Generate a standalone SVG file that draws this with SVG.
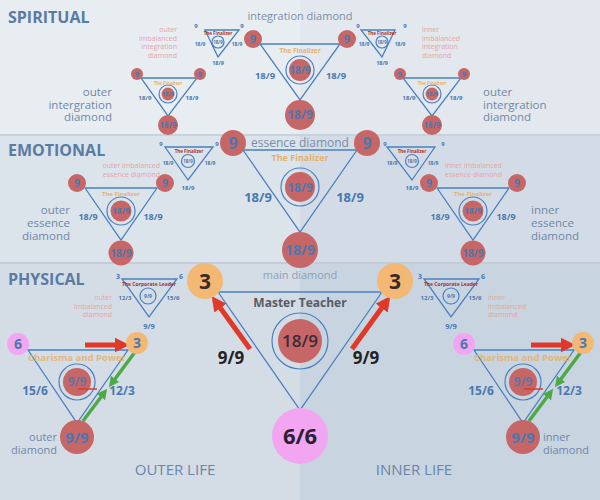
<svg xmlns="http://www.w3.org/2000/svg" width="600" height="500" viewBox="0 0 600 500">
<defs>
<marker id="ar" viewBox="0 0 10 10" refX="5" refY="5" markerWidth="3" markerHeight="3" orient="auto"><path d="M0,0 L10,5 L0,10 z" fill="#e0392a"/></marker>
<marker id="ag" viewBox="0 0 10 10" refX="5" refY="5" markerWidth="3" markerHeight="3" orient="auto"><path d="M0,0 L10,5 L0,10 z" fill="#4caa44"/></marker>
<style>
text{font-family:"Open Sans","DejaVu Sans",sans-serif;text-anchor:middle}
.tri{fill:none;stroke:#4a80c0;stroke-width:1.3}
.red{fill:#c76666}
.org{fill:#f3b874}
.pnk{fill:#f2a6f2}
.ring{fill:none;stroke:#4a80c0;stroke-width:1.2}
.b{fill:#4a78b0;font-weight:bold}
.sec{fill:#5a7ba3;font-weight:bold;font-size:16px;text-anchor:start}
.lab{fill:#7088a8;font-size:11.5px}
.pk{fill:#e6a4a4;font-size:7px}
.fin{fill:#e2b26e;font-weight:bold}
.tf{fill:#a33030;font-weight:bold}
.ra{stroke:#e0392a;stroke-width:5;fill:none}
.ga{stroke:#4caa44;stroke-width:3.5;fill:none}
</style>
</defs>
<rect x="0" y="0" width="300" height="135" fill="#e8edf2"/>
<rect x="300" y="0" width="300" height="135" fill="#e2e8ee"/>
<rect x="0" y="135" width="300" height="128" fill="#dbe3eb"/>
<rect x="300" y="135" width="300" height="128" fill="#d3dce6"/>
<rect x="0" y="263" width="300" height="237" fill="#d4dde6"/>
<rect x="300" y="263" width="300" height="237" fill="#c8d4e0"/>
<line x1="0" y1="135" x2="600" y2="135" stroke="#c8d2dc" stroke-width="2"/>
<line x1="0" y1="263" x2="600" y2="263" stroke="#c3cdd8" stroke-width="2"/>

<text class="sec" x="8" y="23">SPIRITUAL</text>
<text class="sec" x="8" y="156">EMOTIONAL</text>
<text class="sec" x="8" y="285">PHYSICAL</text>

<g id="connectors">
<polygon class="tri" points="218,292 382,292 300,410"/>
<polygon class="tri" points="243,150 357,150 300,232"/>
<polygon class="tri" points="260,44 340,44 300,100"/>
<polygon class="tri" points="141,78 197,78 168,116"/>
<polygon class="tri" points="403,78 461,78 432,116"/>
<polygon class="tri" points="85,188 157,188 121,240"/>
<polygon class="tri" points="437,188 509,188 473,240"/>
<polygon class="tri" points="205,30 239,30 218,57" stroke-width="1"/>
<polygon class="tri" points="361,30 395,30 382,57" stroke-width="1"/>
<polygon class="tri" points="165,147 213,147 188,180" stroke-width="1"/>
<polygon class="tri" points="387,147 435,147 412,180" stroke-width="1"/>
<polygon class="tri" points="122,279 177,279 149,317" stroke-width="1"/>
<polygon class="tri" points="424,279 479,279 451,317" stroke-width="1"/>
<polygon class="tri" points="28,350 128,350 77,423"/>
<polygon class="tri" points="474,350 574,350 523,423"/>
<line class="ra" x1="250" y1="349" x2="216" y2="302" marker-end="url(#ar)"/>
<line class="ra" x1="352" y1="349" x2="386" y2="302" marker-end="url(#ar)"/>
<line class="ra" x1="85" y1="345" x2="122" y2="345" stroke-width="3.5" marker-end="url(#ar)"/>
<line class="ra" x1="531" y1="345" x2="568" y2="345" stroke-width="3.5" marker-end="url(#ar)"/>
<line class="ga" x1="83" y1="421" x2="104" y2="393" marker-end="url(#ag)"/>
<line class="ga" x1="135" y1="352" x2="112" y2="383" marker-end="url(#ag)"/>
<line class="ga" x1="529" y1="421" x2="550" y2="393" marker-end="url(#ag)"/>
<line class="ga" x1="581" y1="352" x2="558" y2="383" marker-end="url(#ag)"/>
</g>

<g id="main-diamond">
<circle class="org" cx="205" cy="281" r="18"/><text x="205" y="289" font-size="21" font-weight="bold" fill="#3a2a2a">3</text>
<circle class="org" cx="395" cy="281" r="18"/><text x="395" y="289" font-size="21" font-weight="bold" fill="#3a2a2a">3</text>
<circle class="pnk" cx="300" cy="436" r="28"/><text x="300" y="444" font-size="22" font-weight="bold" fill="#2a2030">6/6</text>
<circle class="ring" cx="300" cy="341" r="28"/><circle class="red" cx="300" cy="341" r="22"/>
<text x="300" y="347" font-size="17" fill="#3a2a3a" font-weight="600">18/9</text>
<text x="300" y="307" font-size="12" font-weight="bold" fill="#5a5a62">Master Teacher</text>
<text x="300" y="279" font-size="11" fill="#8aa0ba">main diamond</text>
<text x="231" y="364" font-size="17" font-weight="bold" fill="#222">9/9</text>
<text x="366" y="364" font-size="17" font-weight="bold" fill="#222">9/9</text>
</g>

<g id="essence-diamond">
<circle class="red" cx="233" cy="143" r="13"/><text class="b" x="233" y="149" font-size="16">9</text>
<circle class="red" cx="367" cy="143" r="13"/><text class="b" x="367" y="149" font-size="16">9</text>
<circle class="red" cx="300" cy="250" r="18"/><text class="b" x="300" y="255" font-size="14">18/9</text>
<circle class="ring" cx="300" cy="187" r="19"/><circle class="red" cx="300" cy="187" r="15"/>
<text class="b" x="300" y="192" font-size="12">18/9</text>
<text x="300" y="147" font-size="12" fill="#7a8ea8">essence diamond</text>
<text class="fin" x="300" y="161" font-size="9">The Finalizer</text>
<text class="b" x="258" y="202" font-size="13">18/9</text>
<text class="b" x="350" y="202" font-size="13">18/9</text>
</g>

<g id="integration-diamond">
<circle class="red" cx="253" cy="39" r="9"/><text class="b" x="253" y="43" font-size="11">9</text>
<circle class="red" cx="347" cy="39" r="9"/><text class="b" x="347" y="43" font-size="11">9</text>
<circle class="red" cx="300" cy="115" r="15"/><text class="b" x="300" y="119" font-size="12">18/9</text>
<circle class="ring" cx="300" cy="70" r="14"/><circle class="red" cx="300" cy="70" r="11"/>
<text class="b" x="300" y="74" font-size="10">18/9</text>
<text x="300" y="20" font-size="11" fill="#7a8ea8">integration diamond</text>
<text class="fin" x="300" y="53" font-size="6.5">The Finalizer</text>
<text class="b" x="265" y="79" font-size="9.5">18/9</text>
<text class="b" x="336" y="79" font-size="9.5">18/9</text>
</g>

<g id="outer-integration">
<circle class="red" cx="137" cy="74" r="6"/><text class="b" x="137" y="77" font-size="7.5">9</text>
<circle class="red" cx="200" cy="74" r="6"/><text class="b" x="200" y="77" font-size="7.5">9</text>
<circle class="red" cx="168" cy="125" r="10"/><text class="b" x="168" y="128" font-size="8">18/9</text>
<circle class="ring" cx="168" cy="94" r="9" stroke-width="1"/><circle class="red" cx="168" cy="94" r="6.5"/>
<text class="b" x="168" y="96" font-size="5.5">18/9</text>
<text class="fin" x="168" y="85" font-size="4.5">The Finalizer</text>
<text class="b" x="145" y="100" font-size="6">18/9</text>
<text class="b" x="192" y="100" font-size="6">18/9</text>
<text class="lab" x="112" y="96" style="text-anchor:end">outer</text>
<text class="lab" x="112" y="108.5" style="text-anchor:end">intergration</text>
<text class="lab" x="112" y="121" style="text-anchor:end">diamond</text>
</g>

<g id="inner-integration">
<circle class="red" cx="400" cy="74" r="6"/><text class="b" x="400" y="77" font-size="7.5">9</text>
<circle class="red" cx="464" cy="74" r="6"/><text class="b" x="464" y="77" font-size="7.5">9</text>
<circle class="red" cx="432" cy="125" r="10"/><text class="b" x="432" y="128" font-size="8">18/9</text>
<circle class="ring" cx="432" cy="94" r="9" stroke-width="1"/><circle class="red" cx="432" cy="94" r="6.5"/>
<text class="b" x="432" y="96" font-size="5.5">18/9</text>
<text class="fin" x="432" y="85" font-size="4.5">The Finalizer</text>
<text class="b" x="409" y="100" font-size="6">18/9</text>
<text class="b" x="456" y="100" font-size="6">18/9</text>
<text class="lab" x="483" y="96" style="text-anchor:start">outer</text>
<text class="lab" x="483" y="108.5" style="text-anchor:start">intergration</text>
<text class="lab" x="483" y="121" style="text-anchor:start">diamond</text>
</g>

<g id="outer-imbalanced-integration">
<text class="b" x="196" y="28" font-size="6">9</text>
<text class="b" x="242" y="28" font-size="6">9</text>
<text class="tf" x="218" y="35" font-size="4.5">The Finalizer</text>
<circle class="ring" cx="218" cy="42" r="6" stroke-width="0.8"/>
<text class="b" x="218" y="44" font-size="4.5">18/9</text>
<text class="b" x="200" y="46" font-size="5">18/9</text>
<text class="b" x="237" y="46" font-size="5">18/9</text>
<text class="b" x="218" y="65" font-size="5.5">18/9</text>
<text class="pk" x="177" y="32" style="text-anchor:end">outer</text>
<text class="pk" x="177" y="40.5" style="text-anchor:end">imbalanced</text>
<text class="pk" x="177" y="49" style="text-anchor:end">integration</text>
<text class="pk" x="177" y="57.5" style="text-anchor:end">diamond</text>
</g>

<g id="inner-imbalanced-integration">
<text class="b" x="358" y="28" font-size="6">9</text>
<text class="b" x="405" y="28" font-size="6">9</text>
<text class="tf" x="382" y="35" font-size="4.5">The Finalizer</text>
<circle class="ring" cx="382" cy="42" r="6" stroke-width="0.8"/>
<text class="b" x="382" y="44" font-size="4.5">18/9</text>
<text class="b" x="364" y="46" font-size="5">18/9</text>
<text class="b" x="400" y="46" font-size="5">18/9</text>
<text class="b" x="382" y="65" font-size="5.5">18/9</text>
<text class="pk" x="422" y="32" style="text-anchor:start">inner</text>
<text class="pk" x="422" y="40.5" style="text-anchor:start">imbalanced</text>
<text class="pk" x="422" y="49" style="text-anchor:start">integration</text>
<text class="pk" x="422" y="57.5" style="text-anchor:start">diamond</text>
</g>

<g id="outer-essence">
<circle class="red" cx="77" cy="183" r="9"/><text class="b" x="77" y="187" font-size="10">9</text>
<circle class="red" cx="165" cy="183" r="9"/><text class="b" x="165" y="187" font-size="10">9</text>
<circle class="red" cx="121" cy="253" r="12.5"/><text class="b" x="121" y="257" font-size="10">18/9</text>
<circle class="ring" cx="121" cy="211" r="14"/><circle class="red" cx="121" cy="211" r="10.5"/>
<text class="b" x="121" y="214" font-size="8.5">18/9</text>
<text class="fin" x="121" y="196" font-size="6">The Finalizer</text>
<text class="b" x="88" y="220" font-size="9">18/9</text>
<text class="b" x="153" y="220" font-size="9">18/9</text>
<text class="lab" x="70" y="214" style="text-anchor:end">outer</text>
<text class="lab" x="70" y="227" style="text-anchor:end">essence</text>
<text class="lab" x="70" y="240" style="text-anchor:end">diamond</text>
</g>

<g id="inner-essence">
<circle class="red" cx="429" cy="183" r="9"/><text class="b" x="429" y="187" font-size="10">9</text>
<circle class="red" cx="517" cy="183" r="9"/><text class="b" x="517" y="187" font-size="10">9</text>
<circle class="red" cx="473" cy="253" r="12.5"/><text class="b" x="473" y="257" font-size="10">18/9</text>
<circle class="ring" cx="473" cy="211" r="14"/><circle class="red" cx="473" cy="211" r="10.5"/>
<text class="b" x="473" y="214" font-size="8.5">18/9</text>
<text class="fin" x="473" y="196" font-size="6">The Finalizer</text>
<text class="b" x="440" y="220" font-size="9">18/9</text>
<text class="b" x="506" y="220" font-size="9">18/9</text>
<text class="lab" x="531" y="214" style="text-anchor:start">inner</text>
<text class="lab" x="531" y="227" style="text-anchor:start">essence</text>
<text class="lab" x="531" y="240" style="text-anchor:start">diamond</text>
</g>

<g id="outer-imbalanced-essence">
<text class="b" x="161" y="146" font-size="6">9</text>
<text class="b" x="217" y="146" font-size="6">9</text>
<text class="tf" x="189" y="153" font-size="4.5">The Finalizer</text>
<circle class="ring" cx="188" cy="161" r="6.5" stroke-width="0.8"/>
<text class="b" x="188" y="163" font-size="4.5">18/9</text>
<text class="b" x="168" y="165" font-size="5">18/9</text>
<text class="b" x="210" y="165" font-size="5">18/9</text>
<text class="b" x="188" y="190" font-size="6">18/9</text>
<text class="pk" x="160" y="168" style="text-anchor:end">outer imbalanced</text>
<text class="pk" x="160" y="176.5" style="text-anchor:end">essence diamond</text>
</g>

<g id="inner-imbalanced-essence">
<text class="b" x="385" y="146" font-size="6">9</text>
<text class="b" x="443" y="146" font-size="6">9</text>
<text class="tf" x="412" y="153" font-size="4.5">The Finalizer</text>
<circle class="ring" cx="412" cy="161" r="6.5" stroke-width="0.8"/>
<text class="b" x="412" y="163" font-size="4.5">18/9</text>
<text class="b" x="392" y="165" font-size="5">18/9</text>
<text class="b" x="433" y="165" font-size="5">18/9</text>
<text class="b" x="412" y="190" font-size="6">18/9</text>
<text class="pk" x="445" y="168" style="text-anchor:start">inner imbalanced</text>
<text class="pk" x="445" y="176.5" style="text-anchor:start">essence diamond</text>
</g>

<g id="outer-imbalanced-physical">
<text class="b" x="118" y="279" font-size="7">3</text>
<text class="b" x="181" y="279" font-size="7">6</text>
<text class="tf" x="149" y="286" font-size="5">The Corporate Leader</text>
<circle class="ring" cx="148" cy="296" r="8" stroke-width="0.8"/>
<text class="b" x="148" y="298" font-size="5">9/9</text>
<text class="b" x="125" y="300" font-size="6">12/3</text>
<text class="b" x="173" y="300" font-size="6">15/6</text>
<text class="b" x="149" y="329" font-size="7.5">9/9</text>
<text class="pk" x="112" y="300" style="text-anchor:end">outer</text>
<text class="pk" x="112" y="308.5" style="text-anchor:end">imbalanced</text>
<text class="pk" x="112" y="317" style="text-anchor:end">diamond</text>
</g>

<g id="inner-imbalanced-physical">
<text class="b" x="420" y="279" font-size="7">3</text>
<text class="b" x="483" y="279" font-size="7">6</text>
<text class="tf" x="451" y="286" font-size="5">The Corporate Leader</text>
<circle class="ring" cx="451" cy="296" r="8" stroke-width="0.8"/>
<text class="b" x="451" y="298" font-size="5">9/9</text>
<text class="b" x="427" y="300" font-size="6">12/3</text>
<text class="b" x="475" y="300" font-size="6">15/6</text>
<text class="b" x="451" y="329" font-size="7.5">9/9</text>
<text class="pk" x="488" y="300" style="text-anchor:start">inner</text>
<text class="pk" x="488" y="308.5" style="text-anchor:start">imbalanced</text>
<text class="pk" x="488" y="317" style="text-anchor:start">diamond</text>
</g>

<g id="outer-diamond">
<circle class="pnk" cx="18" cy="344" r="11"/><text class="b" x="18" y="349" font-size="14">6</text>
<circle class="org" cx="137" cy="343" r="11"/><text class="b" x="137" y="348" font-size="14">3</text>
<circle class="red" cx="77" cy="437" r="17"/><text class="b" x="77" y="443" font-size="15">9/9</text>
<circle class="ring" cx="77" cy="382" r="18"/><circle class="red" cx="77" cy="382" r="14"/>
<text class="b" x="77" y="386" font-size="12" opacity="0.8">9/9</text>
<line x1="78" y1="389" x2="97" y2="389" stroke="#e0392a" stroke-width="1.5"/>
<text class="fin" x="77" y="361" font-size="9.5" opacity="0.85">Charisma and Power</text>
<text class="b" x="35" y="395" font-size="12">15/6</text>
<text class="b" x="122" y="395" font-size="12">12/3</text>
<text class="lab" x="57" y="441" style="text-anchor:end;font-size:11px">outer</text>
<text class="lab" x="57" y="454" style="text-anchor:end;font-size:11px">diamond</text>
</g>

<g id="inner-diamond">
<circle class="pnk" cx="464" cy="344" r="11"/><text class="b" x="464" y="349" font-size="14">6</text>
<circle class="org" cx="583" cy="343" r="11"/><text class="b" x="583" y="348" font-size="14">3</text>
<circle class="red" cx="523" cy="437" r="17"/><text class="b" x="523" y="443" font-size="15">9/9</text>
<circle class="ring" cx="523" cy="382" r="18"/><circle class="red" cx="523" cy="382" r="14"/>
<text class="b" x="523" y="386" font-size="12" opacity="0.8">9/9</text>
<line x1="524" y1="389" x2="543" y2="389" stroke="#e0392a" stroke-width="1.5"/>
<text class="fin" x="523" y="361" font-size="9.5" opacity="0.85">Charisma and Power</text>
<text class="b" x="481" y="395" font-size="12">15/6</text>
<text class="b" x="569" y="395" font-size="12">12/3</text>
<text class="lab" x="543" y="441" style="text-anchor:start;font-size:11px">inner</text>
<text class="lab" x="543" y="454" style="text-anchor:start;font-size:11px">diamond</text>
</g>

<text x="175" y="475" font-size="15" fill="#6a86aa">OUTER LIFE</text>
<text x="414" y="475" font-size="15" fill="#6a86aa">INNER LIFE</text>
</svg>
